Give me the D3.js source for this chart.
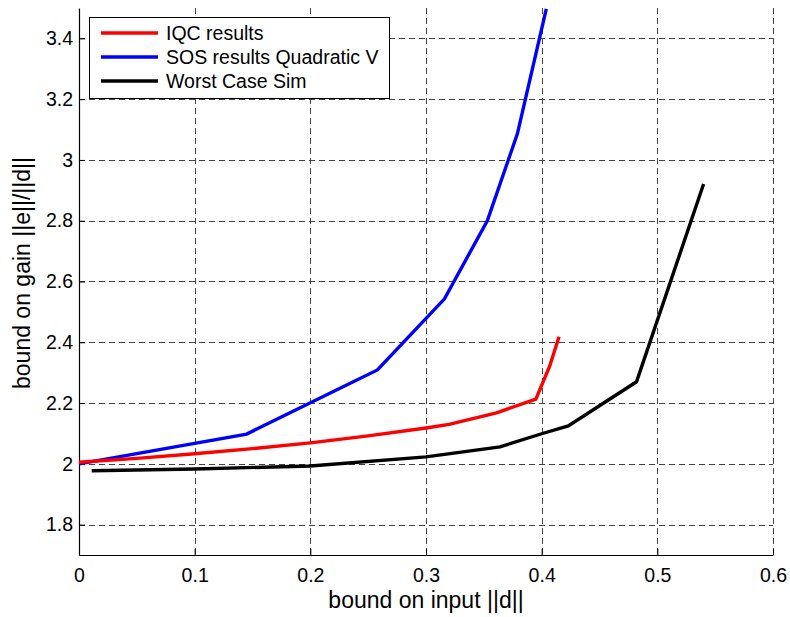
<!DOCTYPE html>
<html>
<head>
<meta charset="utf-8">
<script src="https://cdn.jsdelivr.net/npm/d3@7"></script>
<style>
  body { margin: 0; background: #fff; }
  svg { display: block; font-family: "Liberation Sans", Arial, sans-serif; }
</style>
</head>
<body>
<svg id="chart" width="790" height="617"></svg>
<script>
// values
const iqcX = [0, 0.05, 0.1, 0.15, 0.2, 0.25, 0.3, 0.32, 0.361, 0.395, 0.407, 0.415]
const iqcY = [2.005, 2.018, 2.033, 2.05, 2.069, 2.092, 2.118, 2.13, 2.168, 2.213, 2.322, 2.418]

const sosX = [0, 0.145, 0.258, 0.316, 0.353, 0.379, 0.404]
const sosY = [2.0, 2.098, 2.309, 2.543, 2.8, 3.086, 3.497]

const simX = [0.011, 0.1, 0.2, 0.3, 0.364, 0.4, 0.423, 0.482, 0.540]
const simY = [1.977, 1.983, 1.993, 2.023, 2.056, 2.099, 2.125, 2.27, 2.921]

const xTicks = [0, 0.1, 0.2, 0.3, 0.4, 0.5, 0.6]
const yTicks = [1.8, 2, 2.2, 2.4, 2.6, 2.8, 3, 3.2, 3.4]

const seriesNames = ["IQC results", "SOS results Quadratic V", "Worst Case Sim"]
const seriesColors = ["#ff0000", "#0000ff", "#000000"]

const margin = { top: 8, right: 17, bottom: 62, left: 79 }
const width = 790, height = 617
const w = width - margin.left - margin.right
const h = height - margin.top - margin.bottom

const x = d3.scaleLinear().domain([0, 0.6]).range([0, w])
const y = d3.scaleLinear().domain([1.7, 3.5]).range([h, 0])

const svg = d3.select("#chart")
const g = svg.append("g").attr("transform", `translate(${margin.left},${margin.top})`)

// grid
const grid = g.append("g")
  .attr("stroke", "#444")
  .attr("stroke-width", 1)
  .attr("stroke-dasharray", "6,4")
  .attr("shape-rendering", "crispEdges")

grid.selectAll("line.gx").data(xTicks.filter(d => d > 0)).join("line")
  .attr("class", "gx")
  .attr("x1", d => Math.round(x(d)) + 0.5).attr("x2", d => Math.round(x(d)) + 0.5)
  .attr("y1", 0).attr("y2", h)

grid.selectAll("line.gy").data(yTicks).join("line")
  .attr("class", "gy")
  .attr("y1", d => Math.round(y(d)) + 0.5).attr("y2", d => Math.round(y(d)) + 0.5)
  .attr("x1", 0).attr("x2", w)

// axes
const xAxis = d3.axisBottom(x).tickValues(xTicks).tickSizeInner(-6).tickSizeOuter(0).tickPadding(13)
  .tickFormat(d => d === 0 ? "0" : d3.format(".1f")(d))
const yAxis = d3.axisLeft(y).tickValues(yTicks).tickSizeInner(-6).tickSizeOuter(0).tickPadding(6)
  .tickFormat(d => d === 2 ? "2" : d === 3 ? "3" : d3.format(".1f")(d))

const gx = g.append("g").attr("transform", `translate(0,${h})`).call(xAxis)
const gy = g.append("g").call(yAxis)

for (const ax of [gx, gy]) {
  ax.select(".domain").attr("stroke", "#000").attr("stroke-width", 1.2)
  ax.selectAll(".tick line").attr("stroke", "#000")
  ax.selectAll(".tick text").attr("fill", "#000").style("font-size", "19.5px")
    .style("font-family", "'Liberation Sans', Arial, sans-serif")
}

// axis labels
svg.append("text")
  .attr("x", 426).attr("y", 608)
  .attr("text-anchor", "middle")
  .style("font-size", "23px")
  .text("bound on input ||d||")

svg.append("text")
  .attr("transform", `translate(30,273) rotate(-90)`)
  .attr("text-anchor", "middle")
  .style("font-size", "23px")
  .text("bound on gain ||e||/||d||")

// lines
const line = d3.line().x(d => x(d[0])).y(d => y(d[1]))
const series = [
  d3.zip(iqcX, iqcY),
  d3.zip(sosX, sosY),
  d3.zip(simX, simY)
]

// draw order: sim, sos, iqc (iqc on top near origin)
const drawOrder = [2, 1, 0]
g.append("g").selectAll("path").data(drawOrder).join("path")
  .attr("d", i => line(series[i]))
  .attr("fill", "none")
  .attr("stroke", i => seriesColors[i])
  .attr("stroke-width", 3.4)
  .attr("stroke-linejoin", "miter")

// legend
const legend = g.append("g").attr("transform", "translate(10,9)")
legend.append("rect")
  .attr("x", 0.5).attr("y", 0.5)
  .attr("width", 300).attr("height", 81)
  .attr("fill", "#fff").attr("stroke", "#000").attr("stroke-width", 1)

const row = legend.selectAll("g.row").data(seriesNames).join("g")
  .attr("class", "row")
  .attr("transform", (d, i) => `translate(0,${16 + i * 24})`)

row.append("line")
  .attr("x1", 12).attr("x2", 69)
  .attr("stroke", (d, i) => seriesColors[i])
  .attr("stroke-width", 3.4)

row.append("text")
  .attr("x", 77).attr("dy", "0.35em")
  .style("font-size", "19.5px")
  .text(d => d)
</script>
</body>
</html>
